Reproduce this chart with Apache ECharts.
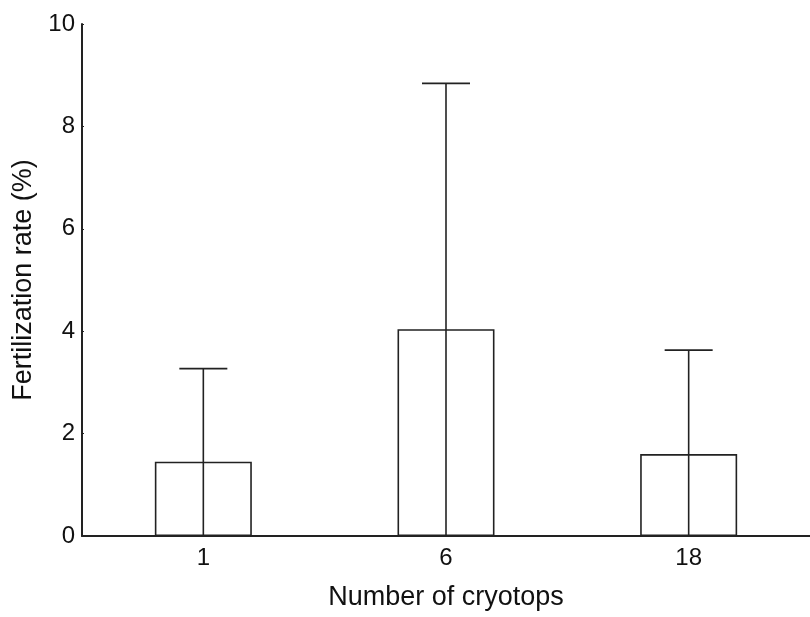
<!DOCTYPE html>
<html>
<head>
<meta charset="utf-8">
<title>Fertilization rate</title>
<script src="https://cdn.jsdelivr.net/npm/echarts@6/dist/echarts.min.js"></script>
<style>
  html, body { margin: 0; padding: 0; background: #fff; }
  #chart { width: 810px; height: 617px; }
</style>
</head>
<body>
<div id="chart"></div>
<script>
// 数据
var categories = ['1', '6', '18']
var rates = [1.45, 4.04, 1.6]
var upperErr = [3.27, 8.84, 3.63]
var yTicks = [0, 2, 4, 6, 8, 10]

var lineColor = '#222'
var font = 'Liberation Sans, Arial, sans-serif'

var chart = echarts.init(document.getElementById('chart'))

var option = {
  backgroundColor: '#fff',
  animation: false,
  grid: {
    left: 82,
    top: 24,
    bottom: 81,
    width: 732
  },
  xAxis: {
    type: 'category',
    data: categories,
    name: 'Number of cryotops',
    nameLocation: 'middle',
    nameGap: 48,
    nameTextStyle: { fontFamily: font, fontSize: 27, color: '#111' },
    axisLine: { lineStyle: { color: lineColor, width: 2 } },
    axisTick: { show: false },
    axisLabel: { fontFamily: font, fontSize: 24, color: '#111', margin: 10 }
  },
  yAxis: {
    type: 'value',
    min: yTicks[0],
    max: yTicks[yTicks.length - 1],
    interval: 2,
    name: 'Fertilization rate (%)',
    nameLocation: 'middle',
    nameGap: 40,
    nameTextStyle: { fontFamily: font, fontSize: 27, color: '#111' },
    axisLine: { show: true, lineStyle: { color: lineColor, width: 2 } },
    axisTick: { show: true, inside: true, length: 2, lineStyle: { color: lineColor } },
    axisLabel: { fontFamily: font, fontSize: 24, color: '#111', margin: 7 },
    splitLine: { show: false }
  },
  series: [
    {
      type: 'bar',
      data: rates,
      barWidth: 97,
      itemStyle: {
        color: '#fff',
        borderColor: lineColor,
        borderWidth: 1.6
      }
    },
    {
      // 误差线
      type: 'custom',
      data: upperErr.map(function (v, i) { return [i, v] }),
      z: 10,
      renderItem: function (params, api) {
        var i = api.value(0)
        var base = api.coord([i, 0])
        var top = api.coord([i, api.value(1)])
        var half = 24
        return {
          type: 'group',
          children: [
            {
              type: 'line',
              shape: { x1: base[0], y1: base[1], x2: top[0], y2: top[1] },
              style: { stroke: lineColor, lineWidth: 1.6 }
            },
            {
              type: 'line',
              shape: { x1: top[0] - half, y1: top[1], x2: top[0] + half, y2: top[1] },
              style: { stroke: lineColor, lineWidth: 1.6 }
            }
          ]
        }
      }
    }
  ]
}

chart.setOption(option)
</script>
</body>
</html>
